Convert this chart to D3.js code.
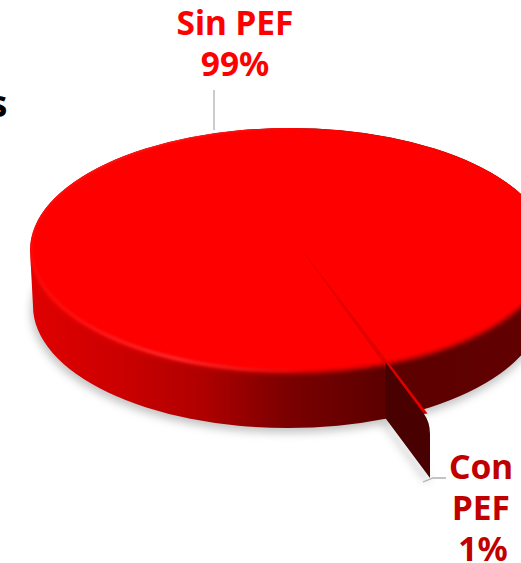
<!DOCTYPE html>
<html>
<head>
<meta charset="utf-8">
<script src="https://cdn.jsdelivr.net/npm/d3@7"></script>
<style>
html, body { margin: 0; padding: 0; background: #fff; overflow: hidden; }
text { font-family: "Noto Sans", sans-serif; font-weight: 700; text-anchor: middle; }
</style>
</head>
<body>
<div id="chart"></div>
<script>
var categories = ["Sin PEF", "Con PEF"];
var percentLabels = ["99%", "1%"];
// drawn share, the sliver in the picture is thinner than its 1% label
var sliceValues = [99.7, 0.3];
var sliceColors = ["#ff0000", "#c00000"];
var labelColors = ["#ff0000", "#c00000"];

var width = 521, height = 563;
// top ellipse and the slightly smaller bottom one, the disc is in perspective
var cx = 290, cy = 250, rx = 260, ry = 122;
var bottomCx = 288, bottomCy = 306, bottomRx = 255;
var apexX = 296, apexY = 242, radius = 266, squash = ry / radius;
var sliverReach = 1.56, wallStart = 1.04, wallDepth = 56;

var svg = d3.select("#chart").append("svg")
    .attr("width", width)
    .attr("height", height);

var defs = svg.append("defs");

function blur(id, dev) {
    defs.append("filter").attr("id", id)
        .attr("x", "-20%").attr("y", "-20%").attr("width", "140%").attr("height", "140%")
        .append("feGaussianBlur").attr("stdDeviation", dev);
}
blur("soft", 2.5);
blur("glow", 1.5);
blur("shadow", 4);

var side = defs.append("linearGradient").attr("id", "side")
    .attr("gradientUnits", "userSpaceOnUse")
    .attr("x1", 30).attr("x2", width).attr("y1", 0).attr("y2", 0);
[[0, "#e00000"], [0.18, "#cc0000"], [0.35, "#b00000"], [0.52, "#7c0000"], [0.72, "#5c0000"], [1, "#620000"]]
    .forEach(function (s) { side.append("stop").attr("offset", s[0]).attr("stop-color", s[1]); });

var rim = defs.append("linearGradient").attr("id", "rim")
    .attr("gradientUnits", "userSpaceOnUse")
    .attr("x1", 30).attr("x2", 320).attr("y1", 0).attr("y2", 0);
rim.append("stop").attr("offset", 0).attr("stop-color", "#ff4a4a").attr("stop-opacity", 0.2);
rim.append("stop").attr("offset", 0.5).attr("stop-color", "#ff4a4a").attr("stop-opacity", 0.9);
rim.append("stop").attr("offset", 1).attr("stop-color", "#ff4a4a").attr("stop-opacity", 0);

var sliverFill = defs.append("linearGradient").attr("id", "sliver")
    .attr("gradientUnits", "userSpaceOnUse")
    .attr("x1", apexX).attr("x2", 426).attr("y1", apexY).attr("y2", 420);
sliverFill.append("stop").attr("offset", 0).attr("stop-color", "#e00000");
sliverFill.append("stop").attr("offset", 0.12).attr("stop-color", "#a00000");
sliverFill.append("stop").attr("offset", 0.65).attr("stop-color", "#a80000");
sliverFill.append("stop").attr("offset", 1).attr("stop-color", sliceColors[1]);

var bodyPath = "M" + (cx - rx) + "," + cy +
    "A" + rx + "," + ry + " 0 0 1 " + (cx + rx) + "," + cy +
    "L" + (bottomCx + bottomRx) + "," + bottomCy +
    "A" + bottomRx + "," + ry + " 0 0 1 " + (bottomCx - bottomRx) + "," + bottomCy + "Z";

defs.append("clipPath").attr("id", "body").append("path").attr("d", bodyPath);

var pie = d3.pie().sort(null)
    .startAngle(161.7 * Math.PI / 180)
    .endAngle(161.7 * Math.PI / 180 + 2 * Math.PI);
var slices = pie(sliceValues);
var sliver = slices[1];
var midAngle = (sliver.startAngle + sliver.endAngle) / 2;

// point on the tilted disc, angle clockwise from the top
function project(angle, r, z) {
    return [apexX + r * Math.sin(angle), apexY - r * squash * Math.cos(angle) + (z || 0)];
}

// ground shadow
svg.append("ellipse")
    .attr("cx", bottomCx - 1).attr("cy", bottomCy + 5)
    .attr("rx", bottomRx + 1).attr("ry", ry)
    .attr("fill", "#8a8a8a")
    .attr("opacity", 0.5)
    .attr("filter", "url(#shadow)");
svg.append("path")
    .attr("d", d3.line()([project(midAngle, radius * wallStart, wallDepth + 3), project(midAngle, radius * sliverReach, wallDepth + 3)]))
    .attr("stroke", "#999").attr("stroke-width", 5).attr("opacity", 0.5)
    .attr("transform", "translate(-2,0)")
    .attr("filter", "url(#shadow)");

// disc side
svg.append("path").attr("d", bodyPath).attr("fill", "url(#side)");

// disc top with its soft bevel
var bevel = svg.append("g").attr("clip-path", "url(#body)");
bevel.append("ellipse")
    .attr("cx", cx).attr("cy", cy + 1)
    .attr("rx", rx).attr("ry", ry)
    .attr("fill", sliceColors[0])
    .attr("filter", "url(#soft)");
bevel.append("ellipse")
    .attr("cx", cx).attr("cy", cy - 2)
    .attr("rx", rx - 1).attr("ry", ry - 2)
    .attr("fill", sliceColors[0]);
bevel.append("ellipse")
    .attr("cx", cx).attr("cy", cy - 1)
    .attr("rx", rx - 1).attr("ry", ry)
    .attr("fill", "none")
    .attr("stroke", "url(#rim)")
    .attr("stroke-width", 2)
    .attr("filter", "url(#glow)");

var disc = svg.append("g")
    .attr("transform", "translate(" + apexX + "," + apexY + ") scale(1," + squash + ")");

// 99% slice
disc.append("path")
    .attr("d", d3.arc().innerRadius(0).outerRadius(radius * 0.9)(slices[0]))
    .attr("fill", sliceColors[0]);

// wall of the pulled out slice, rounded at the tip
var wallTop = project(midAngle, radius * wallStart, 0),
    wallTip = project(midAngle, radius * sliverReach, 0),
    wallEnd = project(midAngle, radius * sliverReach, wallDepth),
    wallFoot = project(midAngle, radius * wallStart, wallDepth),
    wallNear = project(midAngle, radius * (sliverReach - 0.07), 0);
var wall = d3.path();
wall.moveTo(wallTop[0], wallTop[1]);
wall.lineTo(wallNear[0], wallNear[1]);
wall.quadraticCurveTo(wallTip[0], wallTip[1], wallTip[0], wallTip[1] + 12);
wall.lineTo(wallEnd[0], wallEnd[1]);
wall.lineTo(wallFoot[0], wallFoot[1]);
wall.closePath();
svg.append("path")
    .attr("d", wall.toString())
    .attr("fill", "#480000");

// 1% slice, its top face
disc.append("path")
    .attr("d", d3.arc().innerRadius(0).outerRadius(radius * (sliverReach - 0.07))(sliver))
    .attr("fill", "url(#sliver)");

// leader lines
var leader = d3.line();
svg.append("path").attr("d", leader([[214, 90], [214, 130]]))
    .attr("fill", "none").attr("stroke", "#b0b0b0").attr("stroke-width", 1.3);
svg.append("path").attr("d", leader([[446, 478], [433, 478], [423, 482]]))
    .attr("fill", "none").attr("stroke", "#b0b0b0").attr("stroke-width", 1.3);

// labels
var size = 33.5;
svg.append("text").attr("x", 235).attr("y", 35).attr("font-size", size).attr("fill", labelColors[0]).text(categories[0]);
svg.append("text").attr("x", 235).attr("y", 76).attr("font-size", size).attr("fill", labelColors[0]).text(percentLabels[0]);

var conWords = categories[1].split(" ");
svg.append("text").attr("x", 481).attr("y", 479).attr("font-size", size).attr("fill", labelColors[1]).text(conWords[0]);
svg.append("text").attr("x", 481).attr("y", 520).attr("font-size", size).attr("fill", labelColors[1]).text(conWords[1]);
svg.append("text").attr("x", 483).attr("y", 561).attr("font-size", size).attr("fill", labelColors[1]).text(percentLabels[1]);

// tail of the slide title, cut by the left edge
svg.append("text").attr("x", -2).attr("y", 117).attr("font-size", 38).attr("fill", "#000").text("s");
</script>
</body>
</html>
